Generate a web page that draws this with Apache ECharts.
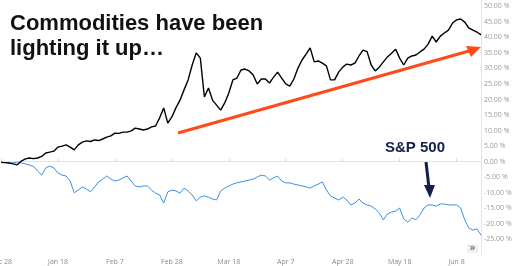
<!DOCTYPE html>
<html>
<head>
<meta charset="utf-8">
<script src="https://cdn.jsdelivr.net/npm/echarts@6/dist/echarts.min.js"></script>
<style>
html,body{margin:0;padding:0;background:#fff;}
#chart{width:512px;height:266px;}
</style>
</head>
<body>
<div id="chart"></div>
<script>
// Trading days, Dec 28 2021 .. Jun 16 2022
var dates = [
 'Dec 28','Dec 29','Dec 30','Dec 31',
 'Jan 3','Jan 4','Jan 5','Jan 6','Jan 7',
 'Jan 10','Jan 11','Jan 12','Jan 13','Jan 14',
 'Jan 18','Jan 19','Jan 20','Jan 21',
 'Jan 24','Jan 25','Jan 26','Jan 27','Jan 28',
 'Jan 31','Feb 1','Feb 2','Feb 3','Feb 4',
 'Feb 7','Feb 8','Feb 9','Feb 10','Feb 11',
 'Feb 14','Feb 15','Feb 16','Feb 17','Feb 18',
 'Feb 22','Feb 23','Feb 24','Feb 25',
 'Feb 28','Mar 1','Mar 2','Mar 3','Mar 4',
 'Mar 7','Mar 8','Mar 9','Mar 10','Mar 11',
 'Mar 14','Mar 15','Mar 16','Mar 17','Mar 18',
 'Mar 21','Mar 22','Mar 23','Mar 24','Mar 25',
 'Mar 28','Mar 29','Mar 30','Mar 31','Apr 1',
 'Apr 4','Apr 5','Apr 6','Apr 7','Apr 8',
 'Apr 11','Apr 12','Apr 13','Apr 14',
 'Apr 18','Apr 19','Apr 20','Apr 21','Apr 22',
 'Apr 25','Apr 26','Apr 27','Apr 28','Apr 29',
 'May 2','May 3','May 4','May 5','May 6',
 'May 9','May 10','May 11','May 12','May 13',
 'May 16','May 17','May 18','May 19','May 20',
 'May 23','May 24','May 25','May 26','May 27',
 'May 31','Jun 1','Jun 2','Jun 3',
 'Jun 6','Jun 7','Jun 8','Jun 9','Jun 10',
 'Jun 13','Jun 14','Jun 15','Jun 16'
];

// Commodities, % change
var commodities = [
 -0.2,-0.3,-0.4,-0.7,-1.0,0.2,0.9,1.2,1.0,1.2,
 1.7,2.8,3.1,3.4,4.7,5.0,5.4,4.7,3.8,5.4,
 6.3,6.7,6.5,7.0,6.8,7.3,7.9,8.3,9.2,9.1,
 9.5,9.5,9.9,10.8,10.5,10.2,10.5,11.2,11.5,14.1,
 17.3,12.4,14.4,17.3,19.8,23.1,26.3,31.1,35.0,33.3,
 20.8,23.7,19.8,18.2,16.6,18.9,22.1,26.3,26.9,29.5,
 29.8,29.2,27.9,25.0,26.6,26.6,25.3,27.2,28.8,26.9,
 25.0,24.3,26.6,30.1,32.7,34.6,36.6,32.1,32.4,31.7,
 30.8,26.3,26.3,28.8,30.4,31.4,31.1,31.7,34.0,35.9,
 35.4,31.1,29.2,30.4,32.1,33.7,34.9,36.2,33.3,31.1,
 33.3,34.0,34.3,35.3,36.2,37.8,40.4,38.5,40.4,41.4,
 42.3,44.6,45.6,45.9,44.9,43.0,42.3,41.7,40.8
];

// S&P 500, % change
var sp500 = [
 -0.2,-0.3,-0.4,-0.4,-0.1,-0.4,-0.7,-1.1,-1.5,-3.0,
 -4.3,-2.0,-1.4,-2.0,-3.6,-4.3,-4.6,-6.2,-10.0,-9.1,
 -8.1,-8.8,-9.7,-8.1,-6.5,-5.6,-4.6,-5.6,-6.2,-5.9,
 -5.2,-4.6,-6.2,-7.8,-8.1,-7.8,-7.8,-9.1,-10.1,-10.7,
 -13.3,-9.7,-9.1,-9.4,-10.1,-8.5,-9.4,-10.7,-12.6,-11.4,
 -11.0,-11.4,-12.0,-12.3,-9.4,-8.5,-7.8,-7.2,-6.8,-6.5,
 -6.2,-5.9,-5.6,-4.9,-4.3,-4.6,-5.9,-5.2,-4.6,-6.2,
 -6.8,-6.8,-7.2,-7.5,-7.8,-8.1,-8.5,-7.8,-7.2,-6.5,
 -9.1,-11.0,-11.7,-12.3,-11.4,-12.3,-13.9,-13.3,-12.0,-13.3,
 -13.9,-14.3,-15.2,-16.5,-18.7,-16.8,-16.2,-15.9,-14.9,-18.4,
 -19.4,-18.1,-18.7,-17.1,-14.9,-13.9,-13.9,-14.3,-13.6,-13.6,
 -13.9,-13.9,-13.9,-14.9,-18.7,-21.3,-22.0,-21.6,-23.6
];

var yTicks = [-25,-20,-15,-10,-5,0,5,10,15,20,25,30,35,40,45,50];

var chart = echarts.init(document.getElementById('chart'), null, {renderer:'canvas'});
chart.setOption({
  animation: false,
  backgroundColor: '#ffffff',
  grid: {left: 1, right: 31, top: 0, bottom: 11, containLabel: false, outerBoundsMode: 'none'},
  xAxis: {
    type: 'category',
    data: dates,
    boundaryGap: false,
    axisLine: {show: true, lineStyle: {color: '#e4e4e4', width: 1}},
    axisTick: {show: true, interval: 13, length: 3, inside: true, lineStyle: {color: '#d8d8d8'}},
    axisLabel: {interval: 13, color: '#8a8a8a', fontSize: 7, fontFamily: 'Open Sans', margin: 3, hideOverlap: false},
    splitLine: {show: false}
  },
  yAxis: {
    type: 'value',
    position: 'right',
    min: -30, max: 52, interval: 5,
    axisLine: {show: true, lineStyle: {color: '#e4e4e4', width: 1}},
    axisTick: {show: false},
    splitLine: {show: false},
    axisLabel: {
      color: '#9a9a9a', fontSize: 7, fontFamily: 'Open Sans', margin: 3,
      formatter: function (v) {
        return yTicks.indexOf(v) >= 0 ? v.toFixed(2) + ' %' : '';
      }
    }
  },
  series: [
    {type: 'line', name: 'Commodities', data: commodities, symbol: 'none',
     lineStyle: {color: '#000000', width: 1.4}, z: 3},
    {type: 'line', name: 'S&P 500', data: sp500, symbol: 'none',
     lineStyle: {color: '#3a8ee6', width: 1}, z: 2}
  ],
  graphic: [
    {type: 'text', left: 10, top: 13, style: {text: 'Commodities have been', font: 'bold 22px "Liberation Sans", Arial, sans-serif', fill: '#111111'}},
    {type: 'text', left: 10, top: 38, style: {text: 'lighting it up\u2026', font: 'bold 22px "Liberation Sans", Arial, sans-serif', fill: '#111111'}},
    {type: 'text', left: 385, top: 140, style: {text: 'S&P 500', font: 'bold 15px "Liberation Sans", Arial, sans-serif', fill: '#12204a'}},
    {type: 'line', shape: {x1: 426, y1: 162, x2: 429, y2: 188}, style: {stroke: '#12204a', lineWidth: 3}},
    {type: 'polygon', shape: {points: [[424, 185], [435, 185], [430, 198]]}, style: {fill: '#12204a'}},
    {type: 'line', shape: {x1: 178, y1: 133, x2: 469, y2: 51}, style: {stroke: '#ff4a1c', lineWidth: 3}},
    {type: 'polygon', shape: {points: [[466, 46], [471, 57], [481, 47]]}, style: {fill: '#ff4a1c'}},
    {type: 'rect', shape: {x: 467, y: 244, width: 11, height: 9, r: 2}, style: {fill: '#f0f0f0'}},
    {type: 'text', x: 472.5, y: 248.5, style: {text: '\u00bb', font: '10px "DejaVu Sans", sans-serif', fill: '#444', align: 'center', verticalAlign: 'middle'}}
  ]
});
</script>
</body>
</html>
